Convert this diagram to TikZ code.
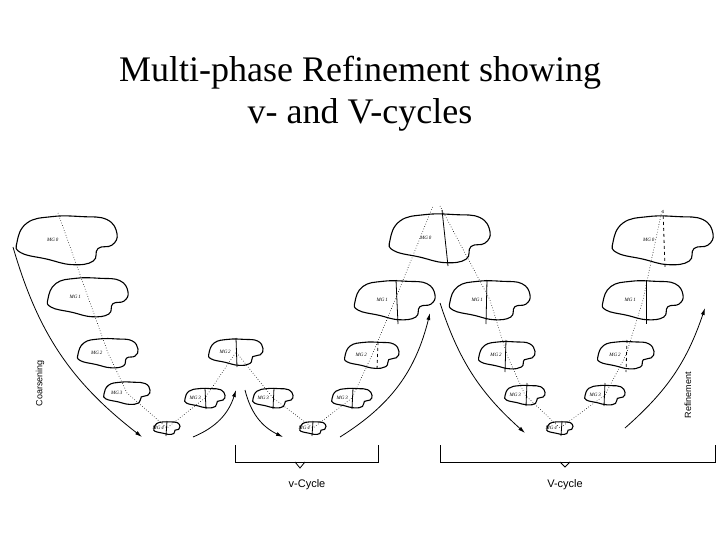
\documentclass[tikz,border=0pt]{standalone}
\usepackage{fontspec}
\setmainfont{Liberation Serif}
\setsansfont{Liberation Sans}
\usetikzlibrary{arrows.meta,positioning,calc}
\tikzset{
  blob/.pic={\draw[line width=1.1pt] plot[smooth cycle,tension=0.75] coordinates {(-1,0.05) (-0.8,-0.4) (-0.3,-0.55) (0.3,-0.55) (0.8,-0.48) (1,-0.15) (0.9,0.12) (0.62,0.2) (0.52,0.5) (0.1,0.58) (-0.4,0.45) (-0.92,0.3)};},
  mglabel/.style={font=\itshape\fontsize{5}{5}\selectfont, inner sep=1pt},
  link/.style={dotted, semithick},
  cut/.style={thick},
  flow/.style={thick, -{Latex[length=7pt,width=4pt]}},
  brace/.style={thick},
  caption/.style={font=\sffamily\fontsize{11}{13}\selectfont}
}
\newcommand{\mesh}[5]{% name, x, y, half width, level
  \pic at (#2,#3) [xscale=#4, yscale=0.85*#4] {blob};
  \coordinate (#1) at (#2,#3);
  \node[mglabel, left=0.15*#4 of #1] (#1l) {MG\,#5};}
\begin{document}
\begin{tikzpicture}[x=1pt,y=-1pt]
\useasboundingbox (0,0) rectangle (720,540);
\node[font=\fontsize{36}{42}\selectfont, align=center] (title) at (360,94) {Multi-phase Refinement showing\\v- and V-cycles};
% coarsening column
\mesh{a0}{67}{240}{50}{0}
\mesh{a1}{88}{297}{40}{1}
\mesh{a2}{108}{353}{30}{2}
\mesh{a3}{127}{393}{23}{3}
\mesh{a4}{167}{428}{13}{4}
% v-cycle
\mesh{b3}{205}{398}{20}{3}
\mesh{b2}{236}{352}{27}{2}
\mesh{b3r}{273}{398}{20}{3}
\mesh{b4}{313}{428}{13}{4}
\mesh{c3}{352}{398}{20}{3}
\mesh{c2}{372}{355}{27}{2}
\mesh{c1}{395}{300}{40}{1}
\mesh{c0}{440}{238}{50}{0}
% V-cycle
\mesh{d1}{490}{300}{40}{1}
\mesh{d2}{507}{355}{28}{2}
\mesh{d3}{525}{395}{20}{3}
\mesh{d4}{560}{428}{13}{4}
\mesh{e3}{605}{395}{20}{3}
\mesh{e2}{626}{355}{28}{2}
\mesh{e1}{643}{300}{40}{1}
\mesh{e0}{663}{240}{50}{0}
% dotted links
\draw[link] (58,213) -- (a1) -- (a2) -- (a3) -- (a4) -- (b3) -- (b2) -- (b3r) -- (b4) -- (c3) -- (c2) -- (c1) -- (433,206);
\draw[link] (440,206) -- (d1) -- (d2) -- (d3) -- (d4) -- (e3) -- (e2) -- (e1) -- (662,210);
% partition cuts
\draw[cut] (167,421) -- (166,436);
\draw[cut] (205,388) -- (206,409);
\draw[cut] (236,338) -- (237,367);
\draw[cut] (274,388) -- (273,409);
\draw[cut] (313,421) -- (312,436);
\draw[cut] (353,388) -- (352,409);
\draw[cut, dashed] (378,342) -- (377,370);
\draw[cut] (396,280) -- (398,324);
\draw[cut] (442,210) -- (448,266);
\draw[cut] (487,280) -- (486,324);
\draw[cut] (506,340) -- (505,372);
\draw[cut] (527,383) -- (526,406);
\draw[cut] (562,421) -- (561,436);
\draw[cut] (605,383) -- (604,406);
\draw[cut, dashed] (627,340) -- (626,372);
\draw[cut] (646,280) -- (646,324);
\draw[cut, dashed] (663,210) -- (665,268);
% flow arrows
\coordinate (f1s) at (13,247); \coordinate (f1e) at (142,437);
\coordinate (f2s) at (193,437); \coordinate (f2e) at (236,390);
\coordinate (f3s) at (245,390); \coordinate (f3e) at (283,437);
\coordinate (f4s) at (340,437); \coordinate (f4e) at (430,313);
\coordinate (f5s) at (440,303); \coordinate (f5e) at (525,433);
\coordinate (f6s) at (625,428); \coordinate (f6e) at (705,308);
\draw[flow] (f1s) to[bend right=18] (f1e);
\draw[flow] (f2s) to[bend right=25] (f2e);
\draw[flow] (f3s) to[bend right=25] (f3e);
\draw[flow] (f4s) to[bend right=22] (f4e);
\draw[flow] (f5s) to[bend right=15] (f5e);
\draw[flow] (f6s) to[bend right=15] (f6e);
\node[caption, rotate=90, font=\sffamily\fontsize{9}{10}\selectfont] (coarse) at (40,383) {Coarsening};
\node[caption, rotate=90, font=\sffamily\fontsize{9}{10}\selectfont] (refine) at (688,395) {Refinement};
% brackets
\draw[brace] (235,445) |- (378,462) -- (378,445);
\draw[brace] (295,462) -- (300,468) -- (305,462);
\draw[brace] (440,445) |- (715,462) -- (715,445);
\draw[brace] (560,462) -- (565,467) -- (570,462);
\node[caption] (vsmall) at (307,485) {v-Cycle};
\node[caption] (vbig) at (565,485) {V-cycle};
\end{tikzpicture}
\end{document}
